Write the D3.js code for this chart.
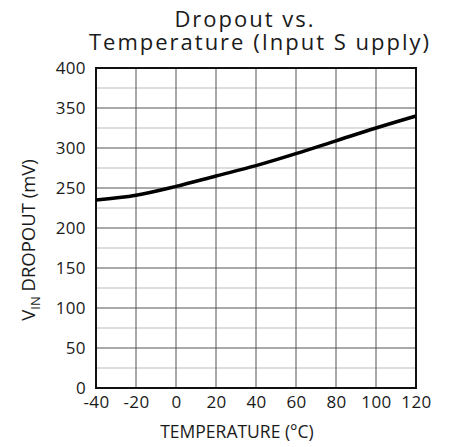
<!DOCTYPE html>
<meta charset="UTF-8">
<style>
  body { margin: 0; background: #fff; }
  text { font-family: "Open Sans", sans-serif; fill: #1a1a1a; }
</style>
<body>
<script src="https://d3js.org/d3.v7.min.js"></script>
<script>

// data
var temps = [-40, -20, 0, 20, 40, 60, 80, 100, 120];
var dropout = [235, 241, 252, 265, 278, 293, 309, 325, 340];
var xTicks = [-40, -20, 0, 20, 40, 60, 80, 100, 120];
var yTicks = [0, 50, 100, 150, 200, 250, 300, 350, 400];
var yMinor = [25, 75, 125, 175, 225, 275, 325, 375];
var titleLines = ["Dropout vs.", "Temperature (Input S upply)"];

var margin = {top: 68, right: 34, bottom: 59, left: 96},
    width = 450 - margin.left - margin.right,
    height = 447 - margin.top - margin.bottom;

var svg = d3.select("body").append("svg")
    .attr("width", 450)
    .attr("height", 447);

var g = svg.append("g")
    .attr("transform", "translate(" + margin.left + "," + margin.top + ")");

var x = d3.scaleLinear().domain([-40, 120]).range([0, width]);
var y = d3.scaleLinear().domain([0, 400]).range([height, 0]);

// minor horizontal grid
g.selectAll("line.minor")
  .data(yMinor)
  .enter().append("line")
    .attr("class", "minor")
    .attr("x1", 0).attr("x2", width)
    .attr("y1", d => y(d)).attr("y2", d => y(d))
    .attr("stroke", "#bbb").attr("stroke-width", 1);

// major grid
g.selectAll("line.hmaj")
  .data(yTicks)
  .enter().append("line")
    .attr("x1", 0).attr("x2", width)
    .attr("y1", d => y(d)).attr("y2", d => y(d))
    .attr("stroke", "#555").attr("stroke-width", 1);

g.selectAll("line.vmaj")
  .data(xTicks)
  .enter().append("line")
    .attr("y1", 0).attr("y2", height)
    .attr("x1", d => x(d)).attr("x2", d => x(d))
    .attr("stroke", "#555").attr("stroke-width", 1);

// frame
g.append("rect")
  .attr("width", width).attr("height", height)
  .attr("fill", "none").attr("stroke", "#111").attr("stroke-width", 2);

// axes (labels only)
var fmt = d => String(d);
var xAxis = g.append("g")
  .attr("transform", "translate(0," + height + ")")
  .call(d3.axisBottom(x).tickValues(xTicks).tickFormat(fmt).tickSize(0).tickPadding(8));
var yAxis = g.append("g")
  .call(d3.axisLeft(y).tickValues(yTicks).tickFormat(fmt).tickSize(0).tickPadding(10));
[xAxis, yAxis].forEach(a => {
  a.select(".domain").remove();
  a.selectAll("text").attr("font-family", "Open Sans, sans-serif")
    .attr("font-size", 17).attr("letter-spacing", 0.4).attr("fill", "#1a1a1a");
});

// curve
var line = d3.line().x((d, i) => x(temps[i])).y(d => y(d)).curve(d3.curveMonotoneX);
g.append("path")
  .datum(dropout)
  .attr("d", line)
  .attr("fill", "none").attr("stroke", "#000").attr("stroke-width", 3.5);

// title
svg.append("text")
  .attr("x", 245).attr("y", 27)
  .attr("text-anchor", "middle").attr("font-size", 22).attr("letter-spacing", 2)
  .text(titleLines[0]);
svg.append("text")
  .attr("x", 260).attr("y", 50)
  .attr("text-anchor", "middle").attr("font-size", 22).attr("letter-spacing", 2)
  .text(titleLines[1]);

// axis titles
svg.append("text")
  .attr("x", 237).attr("y", 438)
  .attr("text-anchor", "middle").attr("font-size", 17.5)
  .text("TEMPERATURE (°C)");

var yl = svg.append("text")
  .attr("transform", "translate(35,240) rotate(-90)")
  .attr("text-anchor", "middle").attr("font-size", 18.5);
yl.append("tspan").text("V");
yl.append("tspan").attr("font-size", 13).attr("dy", 5).text("IN");
yl.append("tspan").attr("dy", -5).text(" DROPOUT (mV)");

</script>
</body>
